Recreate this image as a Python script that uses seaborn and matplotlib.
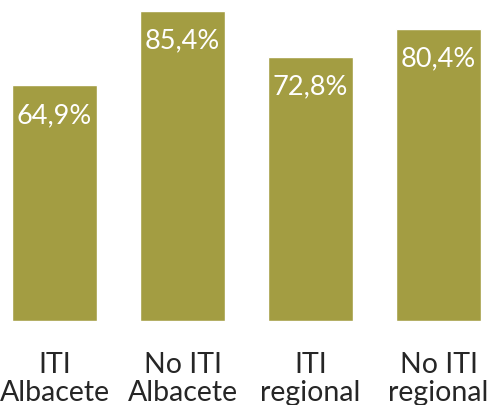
import matplotlib
matplotlib.use("Agg")
import matplotlib.pyplot as plt
import seaborn as sns
import pandas as pd

categories = ["ITI\nAlbacete", "No ITI\nAlbacete", "ITI\nregional", "No ITI\nregional"]
values = [64.9, 85.4, 72.8, 80.4]
value_labels = ["64,9%", "85,4%", "72,8%", "80,4%"]

sns.set_theme(style="white")
plt.rcParams['font.family'] = ['Lato', 'DejaVu Sans']

df = pd.DataFrame({"cat": categories, "val": values})

fig = plt.figure(figsize=(4.9, 4.05), dpi=100)
ax = fig.add_axes([0, 84/405, 1, 321/405])
sns.barplot(data=df, x="cat", y="val", color="#A39D42", saturation=1, width=0.664, ax=ax)
ax.set_xlim(-0.426, 3.402)
ax.set_ylim(0, 88.4)
for i, (v, lab) in enumerate(zip(values, value_labels)):
    ax.annotate(lab, (i, v), xytext=(0, -30), textcoords="offset pixels",
                ha="center", va="center", color="white", fontsize=19.5)
ax.set_xlabel("")
ax.set_ylabel("")
ax.set_yticks([])
ax.tick_params(axis="x", length=0, pad=22, labelsize=20.5)
for lab in ax.get_xticklabels():
    lab.set_linespacing(1.1)
sns.despine(ax=ax, left=True, bottom=True)
fig.savefig("out.png", dpi=100)
